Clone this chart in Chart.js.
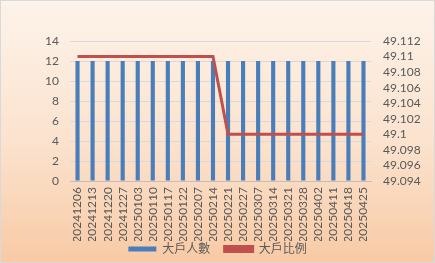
<!DOCTYPE html>
<html>
<head>
<meta charset="utf-8">
<script src="https://cdn.jsdelivr.net/npm/chart.js@4"></script>
<style>
  html, body { margin: 0; padding: 0; }
  #wrap {
    width: 433px; height: 261px;
    border: 1px solid #d9d9d9;
    background: linear-gradient(to bottom, #fdf3ea 0%, #fbe2cd 55%, #f8caa5 100%);
  }
</style>
</head>
<body>
<div id="wrap"><canvas id="chart" width="433" height="261"></canvas></div>
<script>
// data
const dates = ['20241206', '20241213', '20241220', '20241227', '20250103', '20250110', '20250117',
  '20250122', '20250207', '20250214', '20250221', '20250227', '20250307', '20250314', '20250321',
  '20250328', '20250402', '20250411', '20250418', '20250425'];
const holders = [12, 12, 12, 12, 12, 12, 12, 12, 12, 12, 12, 12, 12, 12, 12, 12, 12, 12, 12, 12];
const ratio = [49.11, 49.11, 49.11, 49.11, 49.11, 49.11, 49.11, 49.11, 49.11, 49.11,
  49.1, 49.1, 49.1, 49.1, 49.1, 49.1, 49.1, 49.1, 49.1, 49.1];

const font = "Lato, 'Noto Sans CJK TC', sans-serif";
const gray = '#595959';

const ctx = document.getElementById('chart').getContext('2d');
new Chart(ctx, {
  data: {
    labels: dates,
    datasets: [
      {
        type: 'line',
        label: '大戶比例',
        data: ratio,
        yAxisID: 'y2',
        borderColor: '#c0504d',
        backgroundColor: '#c0504d',
        borderWidth: 3,
        pointRadius: 0,
        tension: 0,
        order: 0
      },
      {
        type: 'bar',
        label: '大戶人數',
        data: holders,
        yAxisID: 'y',
        backgroundColor: '#4a7ebb',
        barPercentage: 0.55,
        categoryPercentage: 0.5,
        order: 1
      }
    ]
  },
  options: {
    responsive: false,
    animation: false,
    layout: { padding: { top: 40, left: 0, right: 0, bottom: -3 } },
    plugins: {
      legend: {
        position: 'bottom',
        reverse: true,
        labels: {
          color: gray,
          font: { family: font, size: 12 },
          boxWidth: 28,
          boxHeight: 5,
          padding: 2,
          // widen the gap between the two legend entries
          generateLabels: (chart) => {
            const items = Chart.defaults.plugins.legend.labels.generateLabels(chart);
            items.forEach((it) => { if (it.datasetIndex === 1) it.text += '    '; });
            return items;
          }
        }
      },
      tooltip: { enabled: false }
    },
    scales: {
      x: {
        grid: { display: false, drawTicks: false },
        border: { color: '#bfbfbf' },
        afterFit: (s) => { s.height = 60; },
        ticks: {
          color: gray,
          font: { family: font, size: 12 },
          minRotation: 90,
          maxRotation: 90,
          autoSkip: false,
          padding: 6
        }
      },
      y: {
        position: 'left',
        min: 0,
        max: 14,
        afterFit: (s) => { s.width = 69; },
        grid: { color: '#d9d9d9', drawTicks: false },
        border: { display: false },
        ticks: {
          stepSize: 2,
          color: gray,
          font: { family: font, size: 12 },
          padding: 11
        }
      },
      y2: {
        position: 'right',
        min: 49.094,
        max: 49.112,
        afterFit: (s) => { s.width = 63; },
        grid: { display: false, drawTicks: false },
        border: { display: false },
        ticks: {
          stepSize: 0.002,
          autoSkip: false,
          color: gray,
          font: { family: font, size: 12 },
          padding: 12,
          callback: (v) => String(Number(v.toFixed(3)))
        }
      }
    }
  }
});
</script>
</body>
</html>
